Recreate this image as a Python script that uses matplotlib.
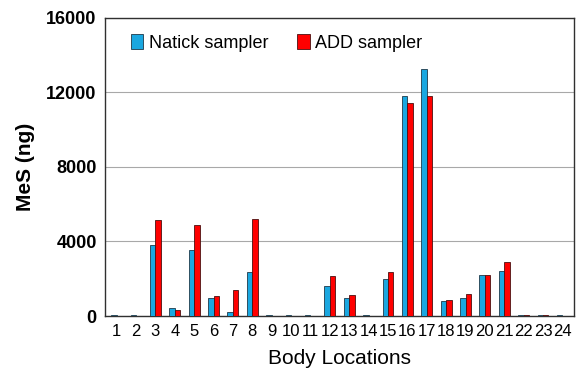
import matplotlib
matplotlib.use("Agg")
import matplotlib.pyplot as plt
import numpy as np

# MeS per body location (ng)
locations = [str(i) for i in range(1, 25)]
natick = [30, 30, 3810, 450, 3540, 950, 215, 2350, 30, 30, 30, 1590,
          980, 30, 1990, 11810, 13250, 800, 950, 2180, 2430, 30, 30, 30]
add = [20, 20, 5170, 340, 4900, 1070, 1400, 5210, 20, 20, 20, 2160,
       1110, 20, 2380, 11450, 11830, 840, 1180, 2180, 2880, 40, 50, 20]
yticks = [0, 4000, 8000, 12000, 16000]

plt.rcParams["font.family"] = ["Liberation Sans", "DejaVu Sans"]

fig = plt.figure(figsize=(5.82, 3.75), dpi=100)
ax = fig.add_axes([0.1804, 0.1573, 0.806, 0.795])

x = np.arange(1, len(locations) + 1)
w = 0.28
ax.bar(x - w / 2, natick, w, color="#1aa7e0", edgecolor="#1f3a4a",
       linewidth=0.6, label="Natick sampler", zorder=3)
ax.bar(x + w / 2, add, w, color="#ff0000", edgecolor="#4a1010",
       linewidth=0.6, label="ADD sampler", zorder=3)

ax.set_xlim(0.4, 24.6)
ax.set_ylim(0, 16000)
ax.set_yticks(yticks)
ax.set_yticklabels([str(t) for t in yticks], fontsize=13, fontweight="bold")
ax.set_xticks(x)
ax.set_xticklabels(locations, fontsize=12)
ax.tick_params(length=0, pad=6)
ax.yaxis.grid(True, color="#a8a8a8", linewidth=0.8, zorder=0)
for s in ax.spines.values():
    s.set_color("#303030")
    s.set_linewidth(1.0)

ax.set_ylabel("MeS (ng)", fontsize=15, fontweight="bold", labelpad=8)
ax.set_xlabel("Body Locations", fontsize=15, labelpad=7)

ax.legend(loc="upper left", ncol=2, frameon=False, fontsize=13,
          handlelength=0.7, handleheight=0.9, handletextpad=0.3,
          columnspacing=1.6, bbox_to_anchor=(0.02, 1.0))

fig.savefig("out.png", dpi=100)
